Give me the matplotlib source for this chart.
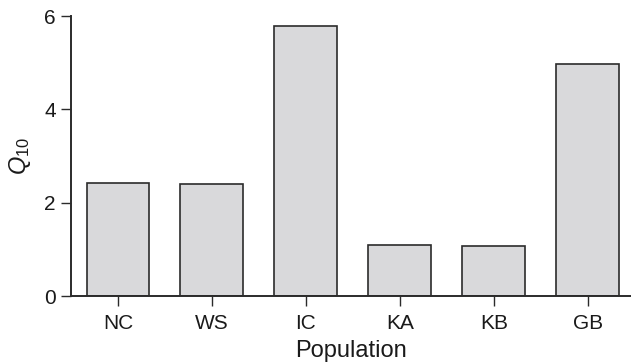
import matplotlib
matplotlib.use('Agg')
import matplotlib.pyplot as plt

populations = ['NC', 'WS', 'IC', 'KA', 'KB', 'GB']
q10 = [2.43, 2.39, 5.79, 1.10, 1.07, 4.98]
yticks = [0, 2, 4, 6]

plt.rcParams['font.family'] = ['Liberation Sans', 'DejaVu Sans']
plt.rcParams['mathtext.fontset'] = 'custom'
plt.rcParams['mathtext.rm'] = 'Liberation Sans'
plt.rcParams['mathtext.it'] = 'Liberation Sans:italic'

edge = '#2b2b2b'
fig = plt.figure(figsize=(6.31, 3.63), dpi=100)
ax = fig.add_axes([71 / 631, 1 - 296 / 363, 1 - 71 / 631, 280 / 363])

x = range(len(populations))
ax.bar(x, q10, width=0.67, color='#d9d9db', edgecolor=edge, linewidth=1.2, zorder=2)

ax.set_xlim(-0.5, 5.46)
ax.set_ylim(0, 6)
ax.set_xticks(list(x))
ax.set_xticklabels(populations)
ax.set_yticks(yticks)

for s in ['top', 'right']:
    ax.spines[s].set_visible(False)
for s in ['left', 'bottom']:
    ax.spines[s].set_color(edge)
    ax.spines[s].set_linewidth(1.4)

ax.tick_params(axis='both', colors=edge, labelcolor='#1a1a1a', labelsize=15,
               length=7, width=1.0, pad=4)
ax.tick_params(axis='x', pad=6)

ax.set_xlabel('Population', fontsize=17, color='#1a1a1a', labelpad=5)
ax.set_ylabel(r'$Q_{\mathrm{10}}$', fontsize=17, color='#1a1a1a', labelpad=8)

fig.savefig('out.png', dpi=100)
